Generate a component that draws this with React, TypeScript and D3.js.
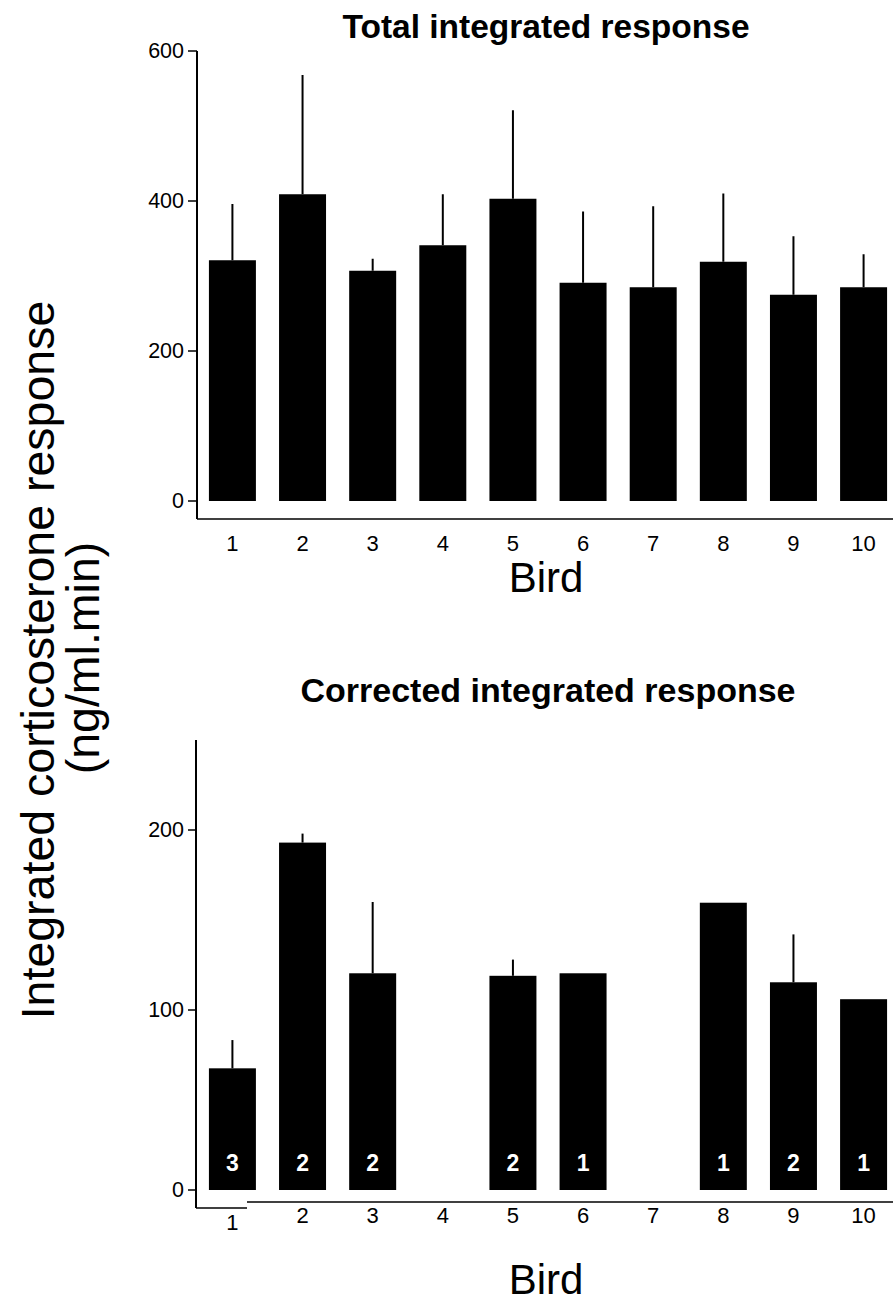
import React from "react";
import * as d3 from "d3";

const birds = ["1", "2", "3", "4", "5", "6", "7", "8", "9", "10"];
const totalMean = [321, 409, 307, 341, 403, 291, 285, 319, 275, 285];
const totalUpper = [396, 568, 323, 409, 521, 386, 393, 410, 353, 329];
const totalTicks = [0, 200, 400, 600];

const corrMean: (number | null)[] = [67.6, 193, 120.4, null, 119, 120.4, null, 159.6, 115.4, 106];
const corrUpper: (number | null)[] = [83.3, 198, 160, null, 128, null, null, null, 142, null];
const corrN: (number | null)[] = [3, 2, 2, null, 2, 1, null, 1, 2, 1];
const corrTicks = [0, 100, 200];

const FONT = "'Liberation Sans', Arial, sans-serif";

export default function App() {
  const x = d3.scaleBand<string>().domain(birds).range([197, 899]).paddingInner(0.33).paddingOuter(0.17);
  const yTop = d3.scaleLinear().domain([0, 600]).range([501, 51]);
  const yBot = d3.scaleLinear().domain([0, 100]).range([1190, 1010]);

  return (
    <svg width={893} height={1305} style={{ position: "absolute", left: 0, top: 0, background: "#fff" }} fontFamily={FONT}>
      <rect x={0} y={0} width={893} height={1305} fill="#fff" />
      {/* Titles */}
      <text x={546} y={38} textAnchor="middle" fontSize={33.5} fontWeight="bold">Total integrated response</text>
      <text x={548} y={702} textAnchor="middle" fontSize={34} fontWeight="bold">Corrected integrated response</text>

      {/* Y label */}
      <g transform="translate(38,660) rotate(-90)">
        <text x={0} y={0} textAnchor="middle" dominantBaseline="central" fontSize={46.5}>Integrated corticosterone response</text>
      </g>
      <g transform="translate(83,658) rotate(-90)">
        <text x={0} y={0} textAnchor="middle" dominantBaseline="central" fontSize={46.5}>(ng/ml.min)</text>
      </g>

      {/* Top chart */}
      <line x1={197} x2={197} y1={yTop(600)} y2={519} stroke="#000" strokeWidth={2} />
      <line x1={197} x2={893} y1={519} y2={519} stroke="#000" strokeWidth={1.5} />
      {totalTicks.map((t) => (
        <g key={t}>
          <line x1={188} x2={197} y1={yTop(t)} y2={yTop(t)} stroke="#000" strokeWidth={1.5} />
          <text x={184} y={yTop(t)} textAnchor="end" dominantBaseline="central" fontSize={21.5}>{t}</text>
        </g>
      ))}
      {birds.map((b, i) => {
        const cx = (x(b) as number) + x.bandwidth() / 2;
        return (
          <g key={b}>
            <line x1={cx} x2={cx} y1={yTop(totalMean[i])} y2={yTop(totalUpper[i])} stroke="#000" strokeWidth={2} />
            <rect x={x(b)} y={yTop(totalMean[i])} width={x.bandwidth()} height={yTop(0) - yTop(totalMean[i])} fill="#000" />
            <text x={cx} y={551} textAnchor="middle" fontSize={22}>{b}</text>
          </g>
        );
      })}
      <text x={546} y={592} textAnchor="middle" fontSize={42}>Bird</text>

      {/* Bottom chart */}
      <line x1={196} x2={196} y1={yBot(250)} y2={1208} stroke="#000" strokeWidth={2} />
      <line x1={196} x2={247} y1={1208} y2={1208} stroke="#000" strokeWidth={1.5} />
      <line x1={247} x2={893} y1={1202} y2={1202} stroke="#000" strokeWidth={1.5} />
      {corrTicks.map((t) => (
        <g key={t}>
          <line x1={188} x2={196} y1={yBot(t)} y2={yBot(t)} stroke="#000" strokeWidth={1.5} />
          <text x={184} y={yBot(t)} textAnchor="end" dominantBaseline="central" fontSize={21.5}>{t}</text>
        </g>
      ))}
      {birds.map((b, i) => {
        const cx = (x(b) as number) + x.bandwidth() / 2;
        const m = corrMean[i];
        const u = corrUpper[i];
        const n = corrN[i];
        return (
          <g key={b}>
            {m !== null && u !== null && (
              <line x1={cx} x2={cx} y1={yBot(m)} y2={yBot(u)} stroke="#000" strokeWidth={2} />
            )}
            {m !== null && (
              <rect x={x(b)} y={yBot(m)} width={x.bandwidth()} height={yBot(0) - yBot(m)} fill="#000" />
            )}
            {n !== null && (
              <text x={cx} y={1163} textAnchor="middle" dominantBaseline="central" fontSize={23} fontWeight="bold" fill="#fff">{n}</text>
            )}
            <text x={cx} y={i === 0 ? 1230 : 1223} textAnchor="middle" fontSize={22}>{b}</text>
          </g>
        );
      })}
      <text x={546} y={1294} textAnchor="middle" fontSize={42}>Bird</text>
    </svg>
  );
}
